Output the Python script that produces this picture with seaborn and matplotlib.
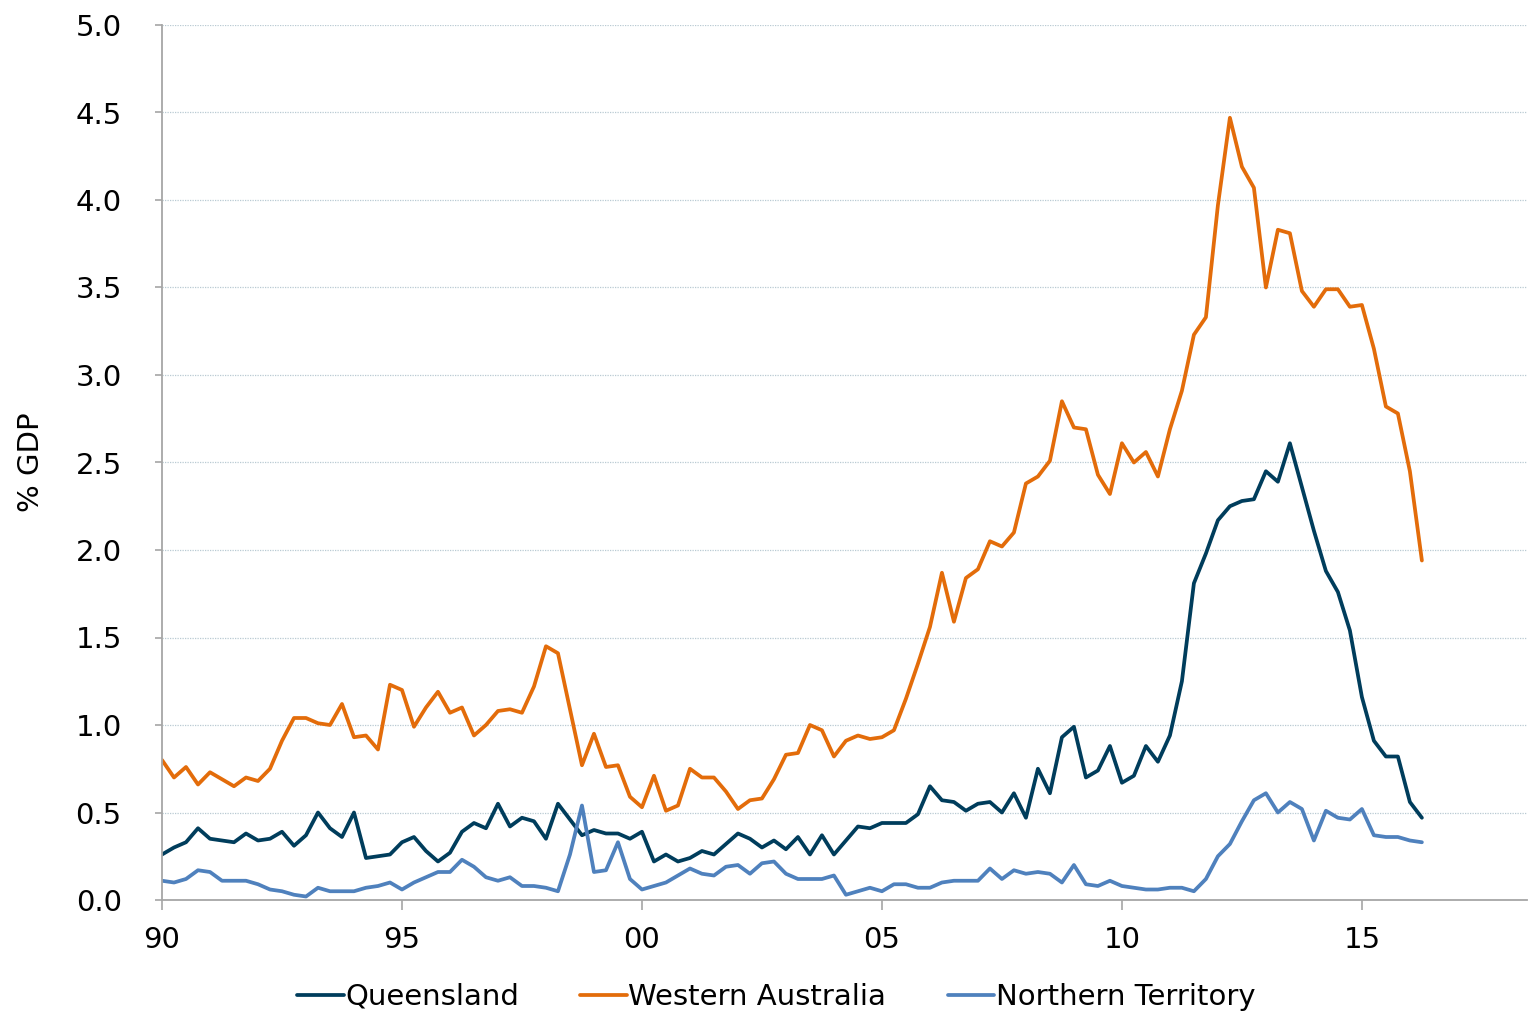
import numpy as np
import pandas as pd
import seaborn as sns
import matplotlib.pyplot as plt

# quarterly, 1990 Q1 to 2016 Q2
start_year = 1990
n_quarters = 106

queensland = [0.26, 0.30, 0.33, 0.41, 0.35, 0.34, 0.33, 0.38, 0.34, 0.35, 0.39, 0.31, 0.37, 0.50, 0.41, 0.36, 0.50, 0.24, 0.25,
              0.26, 0.33, 0.36, 0.28, 0.22, 0.27, 0.39, 0.44, 0.41, 0.55, 0.42, 0.47, 0.45, 0.35, 0.55, 0.46, 0.37, 0.40,
              0.38, 0.38, 0.35, 0.39, 0.22, 0.26, 0.22, 0.24, 0.28, 0.26, 0.32, 0.38, 0.35, 0.30, 0.34, 0.29, 0.36, 0.26, 0.37,
              0.26, 0.34, 0.42, 0.41, 0.44, 0.44, 0.44, 0.49, 0.65, 0.57, 0.56, 0.51, 0.55, 0.56, 0.50, 0.61, 0.47,
              0.75, 0.61, 0.93, 0.99, 0.70, 0.74, 0.88, 0.67, 0.71, 0.88, 0.79, 0.94, 1.25,
              1.81, 1.98, 2.17, 2.25, 2.28, 2.29, 2.45, 2.39, 2.61, 2.36, 2.11, 1.88, 1.76, 1.54, 1.16, 0.91, 0.82, 0.82, 0.56, 0.47]

western_australia = [0.80, 0.70, 0.76, 0.66, 0.73, 0.69, 0.65, 0.70, 0.68, 0.75, 0.91, 1.04, 1.04, 1.01, 1.00, 1.12, 0.93, 0.94, 0.86,
                     1.23, 1.20, 0.99, 1.10, 1.19, 1.07, 1.10, 0.94, 1.00, 1.08, 1.09, 1.07, 1.22, 1.45, 1.41, 1.09, 0.77,
                     0.95, 0.76, 0.77, 0.59, 0.53, 0.71, 0.51, 0.54, 0.75, 0.70, 0.70, 0.62, 0.52, 0.57, 0.58, 0.69, 0.83, 0.84, 1.00,
                     0.97, 0.82, 0.91, 0.94, 0.92, 0.93, 0.97, 1.15, 1.35, 1.56, 1.87, 1.59, 1.84, 1.89,
                     2.05, 2.02, 2.10, 2.38, 2.42, 2.51, 2.85, 2.70, 2.69, 2.43, 2.32,
                     2.61, 2.50, 2.56, 2.42, 2.69, 2.91, 3.23, 3.33, 3.97, 4.47, 4.19, 4.07, 3.50, 3.83, 3.81, 3.48, 3.39,
                     3.49, 3.49, 3.39, 3.40, 3.15, 2.82, 2.78, 2.45, 1.94]

northern_territory = [0.11, 0.10, 0.12, 0.17, 0.16, 0.11, 0.11, 0.11, 0.09, 0.06, 0.05, 0.03, 0.02, 0.07, 0.05, 0.05, 0.05, 0.07, 0.08,
                      0.10, 0.06, 0.10, 0.13, 0.16, 0.16, 0.23, 0.19, 0.13, 0.11, 0.13, 0.08, 0.08, 0.07, 0.05, 0.26, 0.54, 0.16,
                      0.17, 0.33, 0.12, 0.06, 0.08, 0.10, 0.14, 0.18, 0.15, 0.14, 0.19, 0.20, 0.15, 0.21, 0.22, 0.15, 0.12, 0.12, 0.12,
                      0.14, 0.03, 0.05, 0.07, 0.05, 0.09, 0.09, 0.07, 0.07, 0.10, 0.11, 0.11, 0.11, 0.18, 0.12, 0.17, 0.15, 0.16,
                      0.15, 0.10, 0.20, 0.09, 0.08, 0.11, 0.08, 0.07, 0.06, 0.06, 0.07, 0.07, 0.05, 0.12, 0.25, 0.32, 0.45,
                      0.57, 0.61, 0.50, 0.56, 0.52, 0.34, 0.51, 0.47, 0.46, 0.52, 0.37, 0.36, 0.36, 0.34, 0.33]

year_ticks = [1990, 1995, 2000, 2005, 2010, 2015]
year_labels = ["90", "95", "00", "05", "10", "15"]
y_ticks = [0.0, 0.5, 1.0, 1.5, 2.0, 2.5, 3.0, 3.5, 4.0, 4.5, 5.0]

dates = start_year + np.arange(n_quarters) * 0.25
df = pd.DataFrame({
    "date": np.tile(dates, 3),
    "value": queensland + western_australia + northern_territory,
    "state": ["Queensland"] * n_quarters + ["Western Australia"] * n_quarters + ["Northern Territory"] * n_quarters,
})

palette = {"Queensland": "#003D5C", "Western Australia": "#E36C0A", "Northern Territory": "#4F81BD"}

sns.set_style("white")
plt.rcParams['font.family'] = ['DejaVu Sans']
plt.rcParams['text.color'] = 'black'
plt.rcParams['axes.labelcolor'] = 'black'
plt.rcParams['xtick.labelcolor'] = 'black'
plt.rcParams['ytick.labelcolor'] = 'black'

fig = plt.figure(figsize=(15.28, 10.13), dpi=100)
ax = fig.add_axes([162 / 1528, 1 - 900 / 1013, 1365 / 1528, 875 / 1013])

sns.lineplot(data=df, x="date", y="value", hue="state", palette=palette,
             linewidth=2.7, ax=ax, legend=False)

ax.set_xlim(1990, 2018.44)
ax.set_ylim(0, 5)
ax.set_xticks(year_ticks)
ax.set_xticklabels(year_labels)
ax.set_yticks(y_ticks)
ax.set_yticklabels([f"{t:.1f}" for t in y_ticks])

ax.grid(axis="y", color="#B9CAD3", linestyle=(0, (1, 1)), linewidth=0.9)
ax.set_axisbelow(True)
sns.despine(ax=ax)
for side in ["left", "bottom"]:
    ax.spines[side].set_color("#A6A6A6")
    ax.spines[side].set_linewidth(1.3)
ax.tick_params(axis="y", direction="out", length=5, width=1.2, color="#A6A6A6",
               labelsize=21, pad=24, left=True)
ax.tick_params(axis="x", direction="out", length=7, width=1.2, color="#A6A6A6",
               labelsize=21, pad=12, bottom=True)

ax.set_xlabel("")
ax.set_ylabel("% GDP", fontsize=21, va="center")
ax.yaxis.set_label_coords(-0.096, 0.5)

handles = [plt.Line2D([], [], color=palette[s], linewidth=2.7) for s in palette]
fig.legend(handles, list(palette), loc="center", bbox_to_anchor=(0.508, 0.016),
           ncol=3, frameon=False, fontsize=21, handlelength=1.6, handletextpad=0.05,
           columnspacing=2.1)

fig.savefig("out.png", dpi=100)
